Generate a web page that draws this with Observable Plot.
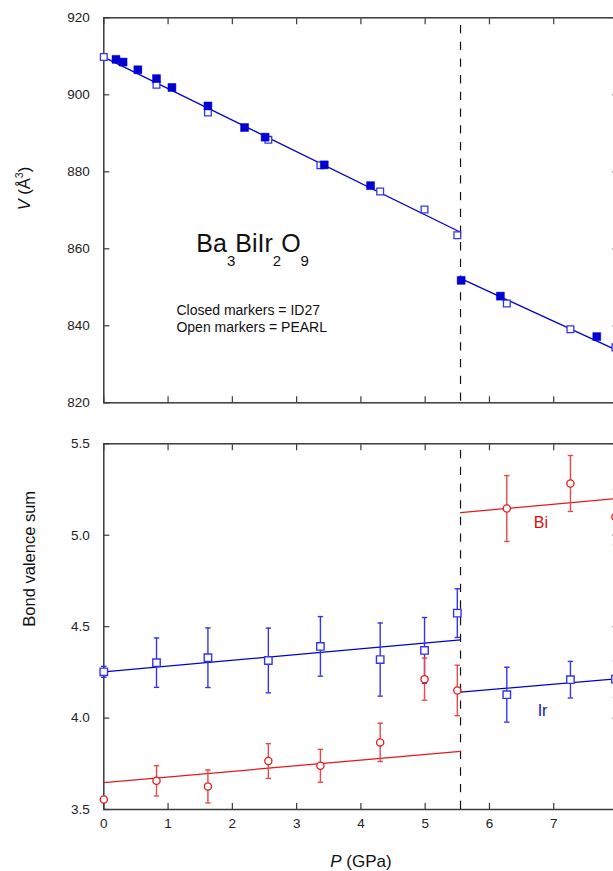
<!DOCTYPE html>
<html><head><meta charset="utf-8">
<script src="https://cdn.jsdelivr.net/npm/d3@7"></script>
<script src="https://cdn.jsdelivr.net/npm/@observablehq/plot@0.6"></script>
<style>
html,body{margin:0;padding:0;background:#fff;overflow:hidden;}
#chart{position:relative;width:613px;height:871px;overflow:hidden;}
#chart .panel{position:absolute;left:0;width:625px;}
#chart svg{display:block;overflow:visible;max-width:none !important;width:625px !important;}
</style></head><body><div id="chart"><div class="panel" id="panelTop" style="top:0"></div><div class="panel" id="panelBot" style="top:420px"></div></div>
<script>
// ---------- data ----------
const xTicks = [0, 1, 2, 3, 4, 5, 6, 7, 8];
const vTicks = [820, 840, 860, 880, 900, 920];
const bvsTicks = [3.5, 4.0, 4.5, 5.0, 5.5];

// Volume: closed markers (ID27)
const id27P = [0.19, 0.30, 0.53, 0.82, 1.06, 1.62, 2.19, 2.51, 3.43, 4.15, 5.56, 6.17, 7.67];
const id27V = [909.2, 908.5, 906.5, 904.2, 901.9, 897.1, 891.5, 889.0, 881.8, 876.4, 851.8, 847.7, 837.2];
// Volume: open markers (PEARL)
const pearlP = [0, 0.82, 1.62, 2.56, 3.37, 4.30, 4.99, 5.50, 6.27, 7.26, 7.96];
const pearlV = [909.8, 902.6, 895.4, 888.3, 881.7, 874.9, 870.2, 863.5, 845.8, 839.1, 834.4];
// Volume fits (below / above transition)
const vFitLowP = [0, 5.55], vFitLowV = [909.8, 864.3];
const vFitHighP = [5.55, 8.0], vFitHighV = [852.3, 833.5];
const transitionP = 5.55;

// Bond valence sums (PEARL pressures)
const bvsIr = [4.253, 4.303, 4.33, 4.315, 4.392, 4.32, 4.37, 4.574, 4.128, 4.21, 4.213];
const bvsIrErr = [0.03, 0.135, 0.163, 0.177, 0.163, 0.20, 0.18, 0.133, 0.15, 0.10, 0.10];
const bvsBi = [3.555, 3.657, 3.626, 3.765, 3.739, 3.867, 4.213, 4.151, 5.146, 5.283, 5.10];
const bvsBiErr = [0, 0.083, 0.09, 0.095, 0.09, 0.105, 0.115, 0.138, 0.18, 0.153, 0.15];
// BVS fits
const irFitLow = [4.253, 4.428], irFitHigh = [4.142, 4.215];
const biFitLow = [3.647, 3.818], biFitHigh = [5.124, 5.201];

// annotations (data coordinates)
const formulaText = ["Ba3BiIr2O9"];
const formulaAt = [1.44, 859.1];
const noteText = ["Closed markers = ID27", "Open markers = PEARL"];
const noteP = [1.13, 1.13], noteV = [842.7, 838.3];
const seriesLabel = ["Bi", "Ir"];
const seriesLabelP = [6.69, 6.75], seriesLabelV = [5.039, 4.013];

// ---------- styling ----------
const FONT = "'Liberation Sans', Arial, Helvetica, sans-serif";
const BLUE = "#0000d2", BLUE_OPEN = "#3434ee", RED = "#e41a1c", RED_BAR = "#e84848";
const AX = "#3a3a3a";

const seg = (P, V, name) => P.map((p, i) => ({P: p, V: V[i], seg: name}));
const vFit = [...seg(vFitLowP, vFitLowV, "low"), ...seg(vFitHighP, vFitHighV, "high")];
const id27 = id27P.map((p, i) => ({P: p, V: id27V[i]}));
const pearl = pearlP.map((p, i) => ({P: p, V: pearlV[i]}));
const ir = pearlP.map((p, i) => ({P: p, v: bvsIr[i], e: bvsIrErr[i]}));
const bi = pearlP.map((p, i) => ({P: p, v: bvsBi[i], e: bvsBiErr[i]}));
const irFit = [...seg(vFitLowP, irFitLow, "low"), ...seg(vFitHighP, irFitHigh, "high")];
const biFit = [...seg(vFitLowP, biFitLow, "low"), ...seg(vFitHighP, biFitHigh, "high")];

const cap = {draw(ctx) { ctx.moveTo(-2.7, 0); ctx.lineTo(2.7, 0); }};

function axes(yTicks, yFmt, xLabels) {
  const m = [
    Plot.frame({stroke: AX, strokeWidth: 1.5}),
    Plot.axisY(yTicks, {anchor: "left", tickSize: 0, tickPadding: 14, tickFormat: yFmt, fontSize: 13.5, fill: "#222", label: null}),
    Plot.axisY(yTicks, {anchor: "left", tickSize: -6, tickFormat: () => "", stroke: AX, strokeWidth: 1.2, label: null}),
    Plot.axisY(yTicks, {anchor: "right", tickSize: -6, tickFormat: () => "", stroke: AX, strokeWidth: 1.2, label: null}),
    Plot.axisX(xTicks, {anchor: "bottom", tickSize: -6, tickFormat: () => "", stroke: AX, strokeWidth: 1.2, label: null}),
    Plot.axisX(xTicks, {anchor: "top", tickSize: -6, tickFormat: () => "", stroke: AX, strokeWidth: 1.2, label: null})
  ];
  if (xLabels) m.push(Plot.axisX(xTicks, {anchor: "bottom", tickSize: 0, tickPadding: 9, tickFormat: d3.format("d"), fontSize: 13.5, fill: "#222", label: null}));
  return m;
}

// replace a plain text element (found by its content) with styled tspans
function rich(svg, content, parts) {
  const t = d3.select(svg).selectAll("text").filter(function() { return this.textContent === content; });
  t.text(null);
  for (const p of parts) {
    const s = t.append("tspan").text(p.t);
    if (p.size) s.attr("font-size", p.size);
    if (p.dy) s.attr("dy", p.dy);
    if (p.italic) s.attr("font-style", "italic");
  }
}

// ---------- top panel ----------
const topChart = Plot.plot({
  width: 625, height: 420,
  marginLeft: 103.3, marginRight: 7.5, marginTop: 17.3, marginBottom: 17.7,
  style: {fontFamily: FONT, background: "white", overflow: "visible"},
  x: {domain: [0, 8], label: null},
  y: {domain: [820, 920], label: null},
  marks: [
    ...axes(vTicks, d3.format("d"), false),
    Plot.ruleX([transitionP], {y1: () => 918, y2: () => 820, stroke: "#111", strokeWidth: 1.2, strokeDasharray: "8.3,8.4"}),
    Plot.line(vFit, {x: "P", y: "V", z: "seg", stroke: BLUE, strokeWidth: 1.3}),
    Plot.dot(pearl, {x: "P", y: "V", symbol: "square", r: 3.8, fill: "white", stroke: BLUE_OPEN, strokeWidth: 1.3}),
    Plot.dot(id27, {x: "P", y: "V", symbol: "square", r: 4.5, fill: BLUE, stroke: BLUE, strokeWidth: 0.5}),
    Plot.text(formulaText, {x: () => formulaAt[0], y: () => formulaAt[1], text: d => d, textAnchor: "start", lineAnchor: "bottom", fontSize: 25, fill: "#111"}),
    Plot.text(noteText, {x: (d, i) => noteP[i], y: (d, i) => noteV[i], text: d => d, textAnchor: "start", lineAnchor: "bottom", fontSize: 14, fill: "#111"}),
    Plot.text(["V (Å3)"], {frameAnchor: "left", rotate: -90, dx: -79, text: d => d, fontSize: 16.5, fill: "#111"})
  ]
});
rich(topChart, "Ba3BiIr2O9", [
  {t: "Ba"}, {t: "3", size: 15, dy: 14}, {t: "BiIr", dy: -14}, {t: "2", size: 15, dy: 14}, {t: "O", dy: -14}, {t: "9", size: 15, dy: 14}
]);
rich(topChart, "V (Å3)", [
  {t: "V", italic: true}, {t: " (Å"}, {t: "3", size: 10.5, dy: -7}, {t: ")", dy: 7}
]);
document.getElementById("panelTop").append(topChart);

// ---------- bottom panel ----------
const botChart = Plot.plot({
  width: 625, height: 451,
  marginLeft: 103.3, marginRight: 7.5, marginTop: 23.3, marginBottom: 62,
  style: {fontFamily: FONT, background: "white", overflow: "visible"},
  x: {domain: [0, 8], label: null},
  y: {domain: [3.5, 5.5], label: null},
  marks: [
    ...axes(bvsTicks, d3.format(".1f"), true),
    Plot.ruleX([transitionP], {y1: () => 5.463, y2: () => 3.5, stroke: "#111", strokeWidth: 1.2, strokeDasharray: "8.3,8.4"}),
    Plot.line(irFit, {x: "P", y: "V", z: "seg", stroke: BLUE, strokeWidth: 1.3}),
    Plot.line(biFit, {x: "P", y: "V", z: "seg", stroke: RED, strokeWidth: 1.3}),
    Plot.ruleX(ir.filter(d => d.e > 0), {x: "P", y1: d => d.v - d.e, y2: d => d.v + d.e, stroke: BLUE_OPEN, strokeWidth: 1.4}),
    Plot.dot(ir.filter(d => d.e > 0), {x: "P", y: d => d.v - d.e, symbol: cap, fill: "none", stroke: BLUE_OPEN, strokeWidth: 1.4}),
    Plot.dot(ir.filter(d => d.e > 0), {x: "P", y: d => d.v + d.e, symbol: cap, fill: "none", stroke: BLUE_OPEN, strokeWidth: 1.4}),
    Plot.ruleX(bi.filter(d => d.e > 0), {x: "P", y1: d => d.v - d.e, y2: d => d.v + d.e, stroke: RED_BAR, strokeWidth: 1.4}),
    Plot.dot(bi.filter(d => d.e > 0), {x: "P", y: d => d.v - d.e, symbol: cap, fill: "none", stroke: RED_BAR, strokeWidth: 1.4}),
    Plot.dot(bi.filter(d => d.e > 0), {x: "P", y: d => d.v + d.e, symbol: cap, fill: "none", stroke: RED_BAR, strokeWidth: 1.4}),
    Plot.dot(ir, {x: "P", y: "v", symbol: "square", r: 4.2, fill: "white", stroke: BLUE_OPEN, strokeWidth: 1.4}),
    Plot.dot(bi, {x: "P", y: "v", symbol: "circle", r: 3.6, fill: "white", stroke: RED, strokeWidth: 1.3}),
    Plot.text(seriesLabel, {x: (d, i) => seriesLabelP[i], y: (d, i) => seriesLabelV[i], text: d => d, textAnchor: "start", lineAnchor: "bottom", fontSize: 16, fill: (d, i) => i === 0 ? "#d41010" : "#1010c8"}),
    Plot.text(["Bond valence sum"], {frameAnchor: "left", rotate: -90, dx: -74, text: d => d, fontSize: 16.5, fill: "#111"}),
    Plot.text(["P (GPa)"], {frameAnchor: "bottom", dy: 57, lineAnchor: "bottom", text: d => d, fontSize: 17, fill: "#111"})
  ]
});
rich(botChart, "P (GPa)", [{t: "P", italic: true}, {t: " (GPa)"}]);
document.getElementById("panelBot").append(botChart);
</script></body></html>
